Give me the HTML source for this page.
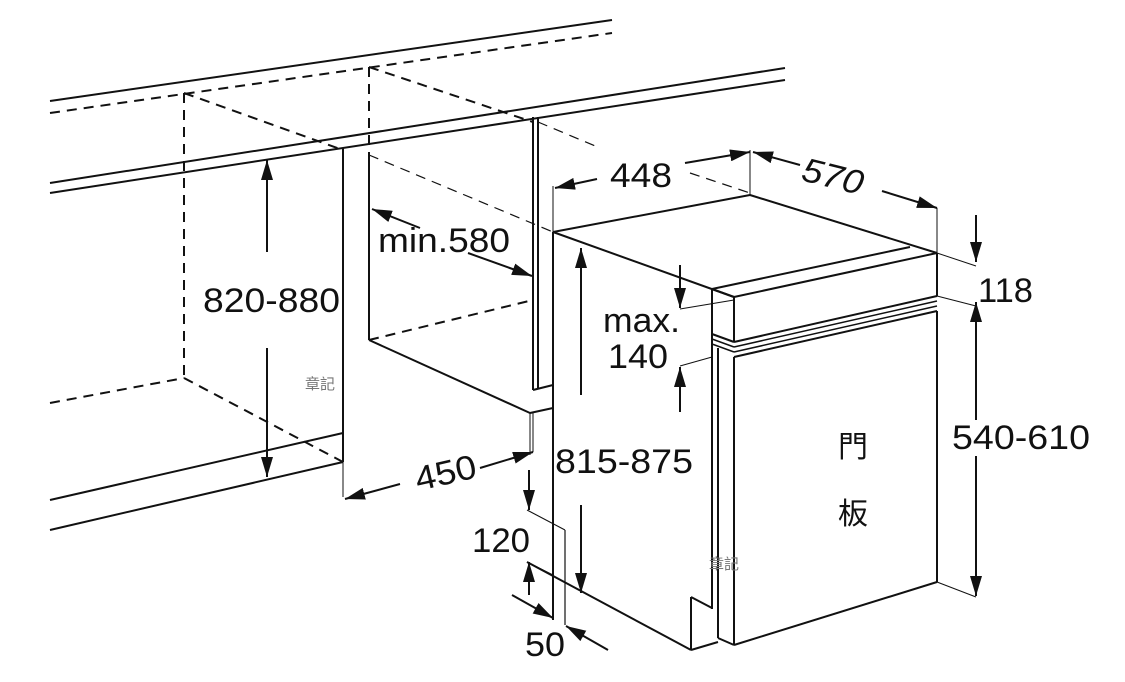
<!DOCTYPE html>
<html><head><meta charset="utf-8"><style>
html,body{margin:0;padding:0;background:#fff;}
svg{display:block;}
text{font-family:"Liberation Sans","Noto Sans CJK TC",sans-serif;fill:#111;}
</style></head><body>
<svg width="1125" height="682" viewBox="0 0 1125 682" xmlns="http://www.w3.org/2000/svg">
<defs>
<marker id="ar" viewBox="0 0 20 12" refX="20" refY="6" markerWidth="20" markerHeight="12" orient="auto" markerUnits="userSpaceOnUse"><path d="M0,0 L20,6 L0,12 z" fill="#111"/></marker>
</defs>
<g stroke="#111" fill="none" stroke-width="2">
<line x1="50" y1="101" x2="612" y2="20"/>
<line x1="50" y1="183" x2="785" y2="68"/>
<line x1="50" y1="193" x2="785" y2="80"/>
<g stroke-dasharray="10,7">
<line x1="50" y1="113" x2="612" y2="33"/>
<line x1="184" y1="93" x2="184" y2="378"/>
<line x1="369" y1="67" x2="369" y2="155"/>
<line x1="184" y1="93" x2="343" y2="150"/>
<line x1="369" y1="67" x2="533" y2="122"/>
<line x1="50" y1="403" x2="184" y2="378"/>
<line x1="184" y1="378" x2="343" y2="462"/>
<line x1="369" y1="340" x2="533" y2="300"/>
</g>
<g stroke-dasharray="10,7" stroke-width="1.2">
<line x1="369" y1="155" x2="553" y2="232"/>
<line x1="538" y1="122" x2="600" y2="148"/>
<line x1="690" y1="173" x2="750" y2="193"/>
</g>
<line x1="343" y1="148" x2="343" y2="462"/>
<line x1="343" y1="462" x2="343" y2="497" stroke-width="1"/>
<line x1="50" y1="500" x2="343" y2="433"/>
<line x1="50" y1="530" x2="343" y2="462"/>
<line x1="369" y1="155" x2="369" y2="340"/>
<line x1="369" y1="340" x2="530" y2="413"/>
<line x1="533" y1="117" x2="533" y2="390"/>
<line x1="538" y1="117" x2="538" y2="388"/>
<line x1="533" y1="390" x2="553" y2="385"/>
<line x1="530" y1="413" x2="553" y2="408"/>
<line x1="530" y1="413" x2="530" y2="455" stroke-width="1"/>
<line x1="553" y1="232" x2="750" y2="195"/>
<line x1="750" y1="195" x2="937" y2="253"/>
<line x1="553" y1="232" x2="734" y2="297"/>
<line x1="553" y1="232" x2="553" y2="620"/>
<line x1="712" y1="289" x2="910" y2="247"/>
<line x1="734" y1="297" x2="937" y2="253"/>
<line x1="712" y1="289" x2="734" y2="297"/>
<line x1="734" y1="297" x2="734" y2="342"/>
<line x1="937" y1="253" x2="937" y2="296"/>
<line x1="734" y1="342" x2="937" y2="296"/>
<line x1="712" y1="334" x2="734" y2="342"/>
<line x1="712" y1="339" x2="734" y2="347" stroke-width="1.5"/><line x1="734" y1="347" x2="937" y2="301" stroke-width="1.5"/>
<line x1="712" y1="344" x2="734" y2="352" stroke-width="1.5"/><line x1="734" y1="352" x2="937" y2="306" stroke-width="1.5"/>
<line x1="734" y1="357" x2="937" y2="311"/>
<line x1="937" y1="311" x2="937" y2="582"/>
<line x1="937" y1="582" x2="734" y2="645"/>
<line x1="734" y1="357" x2="734" y2="645"/>
<line x1="712" y1="289" x2="712" y2="609"/>
<line x1="718" y1="348" x2="718" y2="638"/>
<line x1="718" y1="638" x2="734" y2="645"/>
<line x1="527" y1="562" x2="691" y2="650"/>
<line x1="691" y1="650" x2="718" y2="642"/>
<line x1="691" y1="597" x2="691" y2="650"/>
<line x1="691" y1="597" x2="712" y2="608"/>
<line x1="527" y1="510" x2="565" y2="530" stroke-width="1"/>
<line x1="565" y1="530" x2="565" y2="625" stroke-width="1.2"/>
<line x1="527" y1="562" x2="553" y2="575" stroke-width="1"/>
<g stroke-width="1">
<line x1="553" y1="186" x2="553" y2="232"/>
<line x1="750" y1="150" x2="750" y2="195"/>
<line x1="937" y1="208" x2="937" y2="253"/>
<line x1="937" y1="253" x2="976" y2="266"/>
<line x1="937" y1="296" x2="976" y2="306"/>
<line x1="937" y1="582" x2="976" y2="597"/>
<line x1="680" y1="309" x2="734" y2="300"/>
<line x1="680" y1="366" x2="712" y2="357"/>
<line x1="533" y1="413" x2="533" y2="452"/>
</g>
<g stroke-width="2" marker-end="url(#ar)">
<line x1="267" y1="252" x2="267" y2="160"/>
<line x1="267" y1="348" x2="267" y2="477"/>
<line x1="420" y1="228" x2="372" y2="209"/>
<line x1="468" y1="253" x2="532" y2="276"/>
<line x1="480" y1="468" x2="533" y2="452"/>
<line x1="400" y1="484" x2="345" y2="499"/>
<line x1="597" y1="179" x2="555" y2="188"/>
<line x1="685" y1="163" x2="750" y2="152"/>
<line x1="800" y1="165" x2="753" y2="152"/>
<line x1="882" y1="191" x2="937" y2="208"/>
<line x1="976" y1="215" x2="976" y2="262"/>
<line x1="976" y1="420" x2="976" y2="302"/>
<line x1="976" y1="456" x2="976" y2="596"/>
<line x1="680" y1="265" x2="680" y2="308"/>
<line x1="680" y1="412" x2="680" y2="367"/>
<line x1="581" y1="395" x2="581" y2="248"/>
<line x1="581" y1="505" x2="581" y2="593"/>
<line x1="529" y1="470" x2="529" y2="510"/>
<line x1="529" y1="595" x2="529" y2="562"/>
<line x1="512" y1="595" x2="553" y2="618"/>
<line x1="608" y1="650" x2="566" y2="626"/>
</g>
</g>
<g font-size="34">
<text x="610" y="187" textLength="62" lengthAdjust="spacingAndGlyphs">448</text>
<text x="800" y="180" transform="rotate(14 800 180)" font-style="italic" textLength="62" lengthAdjust="spacingAndGlyphs">570</text>
<text x="378" y="252" textLength="132" lengthAdjust="spacingAndGlyphs">min.580</text>
<text x="203" y="312" textLength="137" lengthAdjust="spacingAndGlyphs">820-880</text>
<text x="418" y="491" transform="rotate(-13 418 491)" textLength="62" lengthAdjust="spacingAndGlyphs">450</text>
<text x="555" y="473" textLength="138" lengthAdjust="spacingAndGlyphs">815-875</text>
<text x="603" y="332" textLength="77" lengthAdjust="spacingAndGlyphs">max.</text>
<text x="608" y="368" textLength="60" lengthAdjust="spacingAndGlyphs">140</text>
<text x="978" y="302" textLength="55" lengthAdjust="spacingAndGlyphs">118</text>
<text x="952" y="449" textLength="138" lengthAdjust="spacingAndGlyphs">540-610</text>
<text x="472" y="552" textLength="58" lengthAdjust="spacingAndGlyphs">120</text>
<text x="525" y="656" textLength="40" lengthAdjust="spacingAndGlyphs">50</text>
</g>
<g font-size="30">
<text x="838" y="457">門</text>
<text x="838" y="524">板</text>
</g>
<text x="305" y="389" font-size="15" style="fill:#777">章記</text>
<text x="709" y="569" font-size="15" style="fill:#777">章記</text>
</svg>
</body></html>
